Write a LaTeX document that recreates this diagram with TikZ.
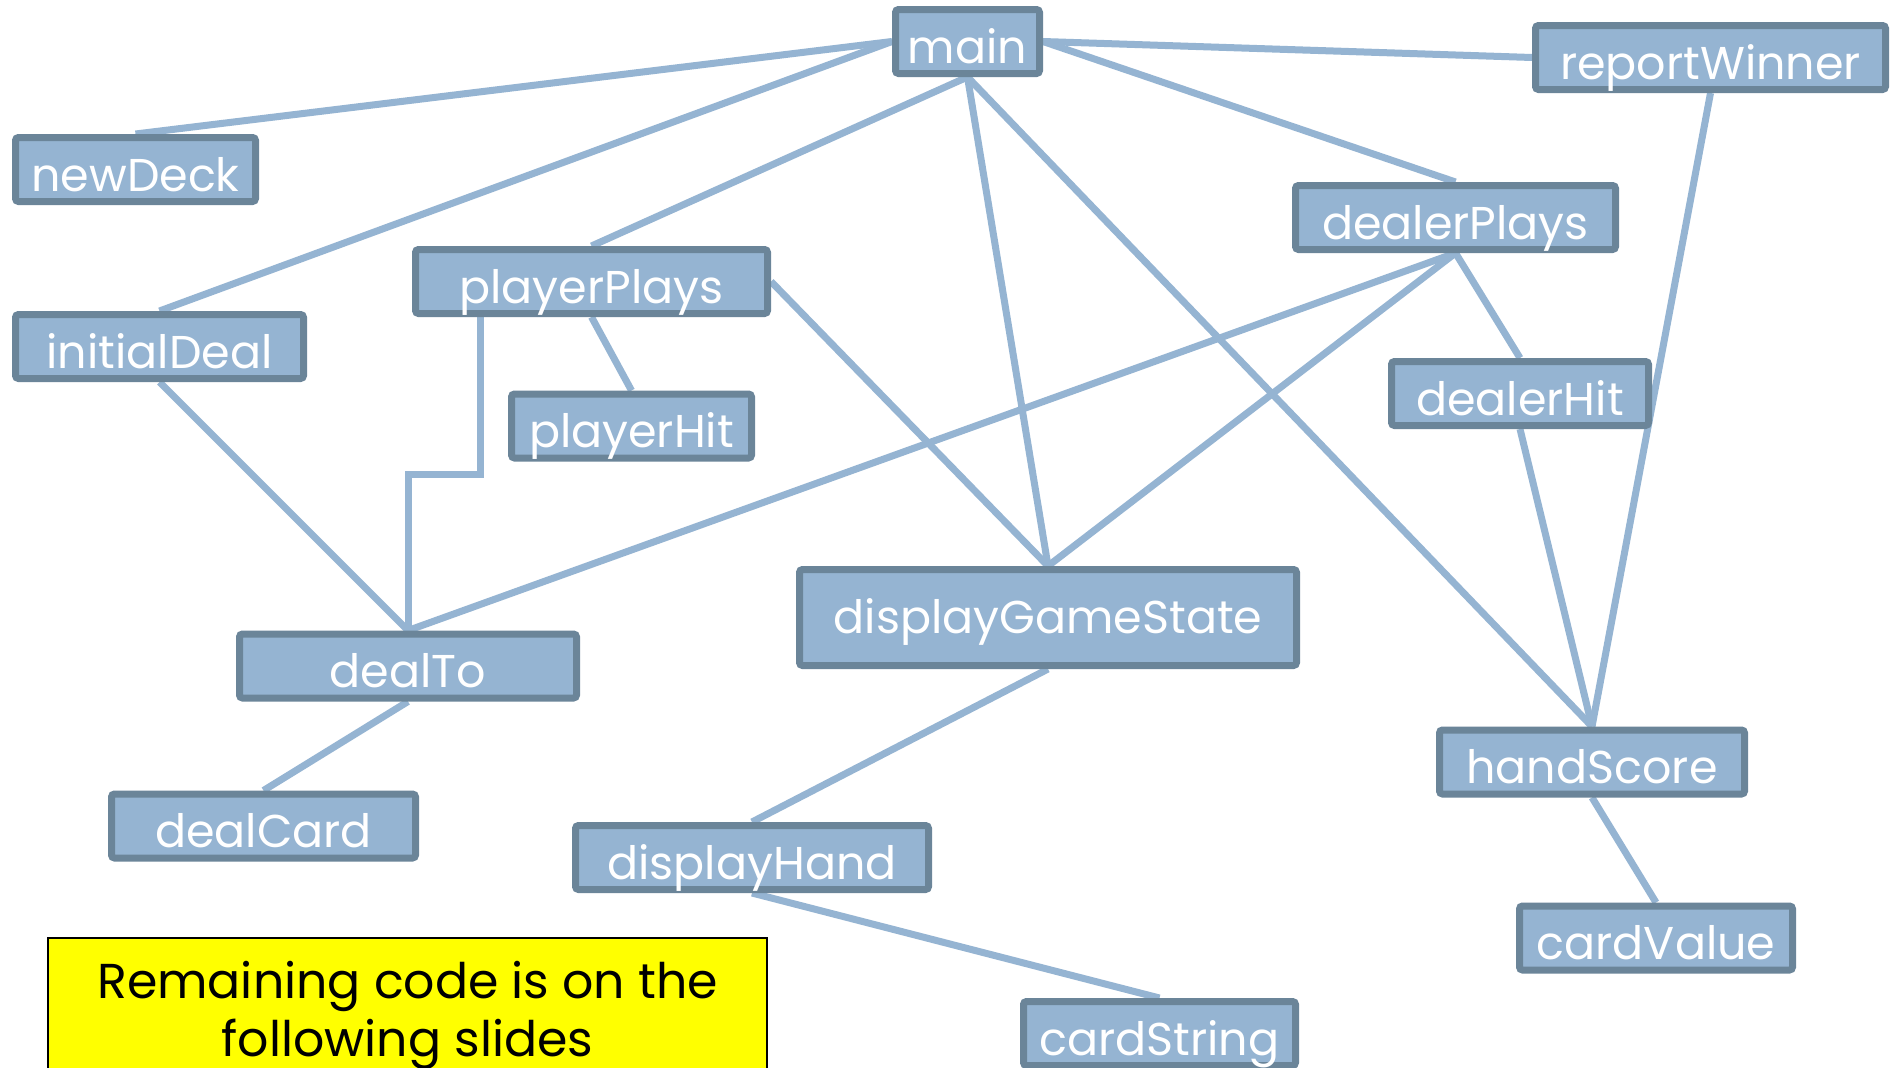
\documentclass[tikz,border=0pt]{standalone}
\usepackage{fontspec}
\setmainfont{Poppins}
\usetikzlibrary{backgrounds}
\pgfdeclarelayer{bottom}
\pgfsetlayers{bottom,background,main}
\definecolor{boxfill}{HTML}{95B4D2}
\definecolor{boxedge}{HTML}{6B8599}
\definecolor{notefill}{HTML}{FFFF00}
\begin{document}
\begin{tikzpicture}[x=1pt,y=-1pt,
  fn/.style={draw=boxedge, fill=boxfill, line width=7pt, rounded corners=3pt,
    text=white, inner sep=0pt, minimum height=64pt, minimum width=#1,
    text height=43pt, text depth=0pt, font=\fontsize{46}{54}\selectfont},
  link/.style={draw=boxfill, line width=7pt},
  notebox/.style={draw=black, fill=notefill, line width=2pt, inner sep=0pt,
    minimum width=719pt, minimum height=150pt},
  notetext/.style={anchor=base, inner sep=0pt, text=black,
    font=\fontsize{49}{58}\selectfont}]
\begin{pgfonlayer}{bottom}
\fill[white] (0,0) rectangle (1890,1068);
\end{pgfonlayer}
\useasboundingbox (0,0) rectangle (1890,1068);

% function boxes
\node[fn=144pt] (main) at (967.5,41.5) {main};
\node[fn=240pt] (newDeck) at (135.5,169.5) {newDeck};
\node[fn=350pt] (reportWinner) at (1710.5,57.5) {reportWinner};
\node[fn=288pt] (initialDeal) at (159.5,346.5) {initialDeal};
\node[fn=352pt] (playerPlays) at (591.5,281.5) {playerPlays};
\node[fn=240pt] (playerHit) at (631.5,426) {playerHit};
\node[fn=320pt] (dealerPlays) at (1455.5,217.5) {dealerPlays};
\node[fn=257pt] (dealerHit) at (1520,393.5) {dealerHit};
\node[fn=497pt, minimum height=96pt, text height=31pt] (displayGameState) at (1048,617.5) {displayGameState};
\node[fn=337pt] (dealTo) at (408,666) {dealTo};
\node[fn=304pt] (dealCard) at (263.5,826) {dealCard};
\node[fn=305pt] (handScore) at (1592,762) {handScore};
\node[fn=273pt] (cardValue) at (1656,938) {cardValue};
\node[fn=353pt] (displayHand) at (752,857.5) {displayHand};
\node[fn=272pt] (cardString) at (1159.5,1033.5) {cardString};

% bend of the playerPlays -> dealTo call
\coordinate (bend) at (480,474);

% note
\node[notebox] (note) at (407.5,1013) {};
\node[notetext] (noteA) at (407.5,998) {Remaining code is on the};
\node[notetext] (noteB) at (407.5,1056) {following slides};

% call connectors, behind the boxes
\begin{pgfonlayer}{background}
\draw[link] (main.west) -- (newDeck.north);
\draw[link] (main.west) -- (initialDeal.north);
\draw[link] (main.south) -- (playerPlays.north);
\draw[link] (main.south) -- (displayGameState.north);
\draw[link] (main.south) -- (handScore.north);
\draw[link] (main.east) -- (dealerPlays.north);
\draw[link] (main.east) -- (reportWinner.west);
\draw[link] (reportWinner.south) -- (handScore.north);
\draw[link] (dealerPlays.south) -- (dealTo.north);
\draw[link] (dealerPlays.south) -- (displayGameState.north);
\draw[link] (dealerPlays.south) -- (dealerHit.north);
\draw[link] (dealerHit.south) -- (handScore.north);
\draw[link] (playerPlays.south) -- (playerHit.north);
\draw[link] (playerPlays.east) -- (displayGameState.north);
\draw[link] (bend |- playerPlays.south) -- (bend) -- (bend -| dealTo.north) -- (dealTo.north);
\draw[link] (initialDeal.south) -- (dealTo.north);
\draw[link] (dealTo.south) -- (dealCard.north);
\draw[link] (displayGameState.south) -- (displayHand.north);
\draw[link] (displayHand.south) -- (cardString.north);
\draw[link] (handScore.south) -- (cardValue.north);
\end{pgfonlayer}
\end{tikzpicture}
\end{document}
